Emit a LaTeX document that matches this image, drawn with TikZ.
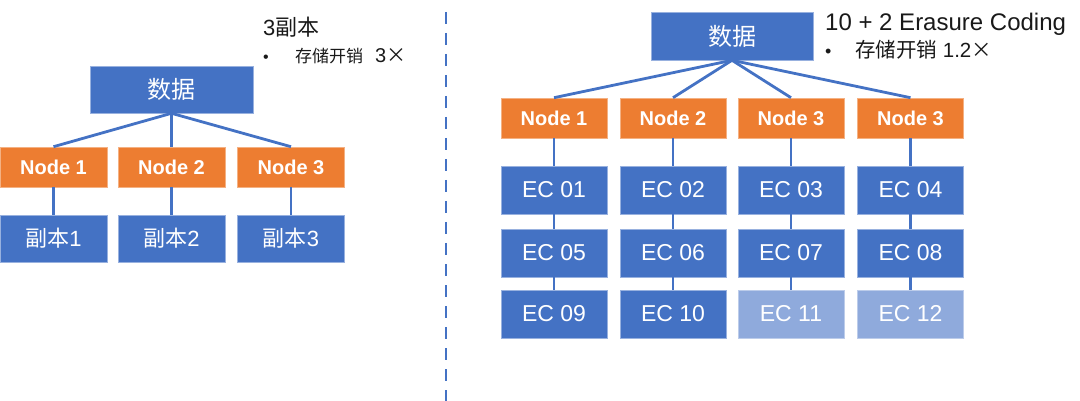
\documentclass[tikz,border=0pt]{standalone}
\usepackage{fontspec}
\setmainfont{Liberation Sans}
\newfontfamily\cjk{Noto Sans CJK SC}
\usepackage{tikz}
\usetikzlibrary{positioning}

\definecolor{ppblue}{HTML}{4472C4}
\definecolor{pporange}{HTML}{ED7D31}
\definecolor{pplight}{HTML}{8FAADC}
\newcommand{\zh}[1]{{\cjk #1}}

\begin{document}
\begin{tikzpicture}[x=1pt, y=-1pt,
        box/.style = {fill=ppblue, draw=ppblue!55, line width=0.6pt, text=white, inner sep=0pt, minimum width=107pt, minimum height=47pt, font=\fontsize{22}{26}\selectfont},
        srv/.style = {fill=pporange, draw=pporange!60, line width=0.6pt, text=white, inner sep=0pt, minimum width=107pt, minimum height=40pt, font=\fontsize{20}{24}\selectfont\bfseries},
        ec/.style = {box, minimum width=106pt, minimum height=48pt, font=\fontsize{23}{26}\selectfont},
        ecl/.style = {ec, fill=pplight, draw=pplight!60},
        link/.style = {draw=ppblue, line width=2.8pt},
        note/.style = {anchor=base west, inner sep=0pt, text=black!90}]
                \useasboundingbox (0,0) rectangle (1080,401);

                % left: 3 replicas
                \node[box, minimum width=163pt, font=\cjk\fontsize{24}{28}\selectfont] at (171.5, 89.5) (data) {数据};
                \node[srv] at (53.5, 167) (n1) {Node 1};
                \node[srv] at (171.5, 167) (n2) {Node 2};
                \node[srv] at (291, 167) (n3) {Node 3};
                \node[box] at (53.5, 238.5) (r1) {\zh{副本}1};
                \node[box] at (171.5, 238.5) (r2) {\zh{副本}2};
                \node[box] at (291, 238.5) (r3) {\zh{副本}3};

                \node[note, font=\fontsize{22}{26}\selectfont] at (263, 36) (repTitle) {3\zh{副本}};
                \node[note, font=\fontsize{16}{20}\selectfont] at (263, 63) (repDot) {•};
                \node[note, font=\fontsize{17}{20}\selectfont] at (295, 63) (repCost) {\zh{存储开销}\hspace{12pt}{\fontsize{20}{24}\selectfont 3\zh{×}}};

                \draw[link] (data.south) -- (n1.north);
                \draw[link] (data.south) -- (n2.north);
                \draw[link] (data.south) -- (n3.north);
                \draw[link] (n1) -- (r1);
                \draw[link] (n2) -- (r2);
                \draw[link] (n3) -- (r3);

                % separator
                \coordinate (sepTop) at (446, 12);
                \coordinate (sepBot) at (446, 401);
                \draw[draw=ppblue, line width=2.6pt, dash pattern=on 12pt off 9pt] (sepTop) -- (sepBot);

                % right: 10 + 2 erasure coding
                \node[box, minimum width=162pt, minimum height=48pt, font=\cjk\fontsize{24}{28}\selectfont] at (732, 36) (ecData) {数据};
                \node[srv, minimum width=106pt] at (554, 118) (m1) {Node 1};
                \node[srv, minimum width=106pt] at (673, 118) (m2) {Node 2};
                \node[srv, minimum width=106pt] at (791, 118) (m3) {Node 3};
                \node[srv, minimum width=106pt] at (910.5, 118) (m4) {Node 3};

                \node[ec] at (554, 190) (e1) {EC 01};
                \node[ec] at (673, 190) (e2) {EC 02};
                \node[ec] at (791, 190) (e3) {EC 03};
                \node[ec] at (910.5, 190) (e4) {EC 04};
                \node[ec] at (554, 253) (e5) {EC 05};
                \node[ec] at (673, 253) (e6) {EC 06};
                \node[ec] at (791, 253) (e7) {EC 07};
                \node[ec] at (910.5, 253) (e8) {EC 08};
                \node[ec] at (554, 314) (e9) {EC 09};
                \node[ec] at (673, 314) (e10) {EC 10};
                \node[ecl] at (791, 314) (e11) {EC 11};
                \node[ecl] at (910.5, 314) (e12) {EC 12};

                \node[note, font=\fontsize{24}{28}\selectfont] at (825, 31) (ecTitle) {10 + 2 Erasure Coding};
                \node[note, font=\fontsize{18}{22}\selectfont] at (825, 57.5) (ecDot) {•};
                \node[note, font=\fontsize{20.5}{24}\selectfont] at (855, 57.5) (ecCost) {\zh{存储开销} 1.2\zh{×}};

                \draw[link] (ecData.south) -- (m1.north);
                \draw[link] (ecData.south) -- (m2.north);
                \draw[link] (ecData.south) -- (m3.north);
                \draw[link] (ecData.south) -- (m4.north);

                \draw[link] (m1) -- (e1);
                \draw[link] (m2) -- (e2);
                \draw[link] (m3) -- (e3);
                \draw[link] (m4) -- (e4);
                \draw[link] (e1) -- (e5);
                \draw[link] (e2) -- (e6);
                \draw[link] (e3) -- (e7);
                \draw[link] (e4) -- (e8);
                \draw[link] (e5) -- (e9);
                \draw[link] (e6) -- (e10);
                \draw[link] (e7) -- (e11);
                \draw[link] (e8) -- (e12);
            \end{tikzpicture}
\end{document}
